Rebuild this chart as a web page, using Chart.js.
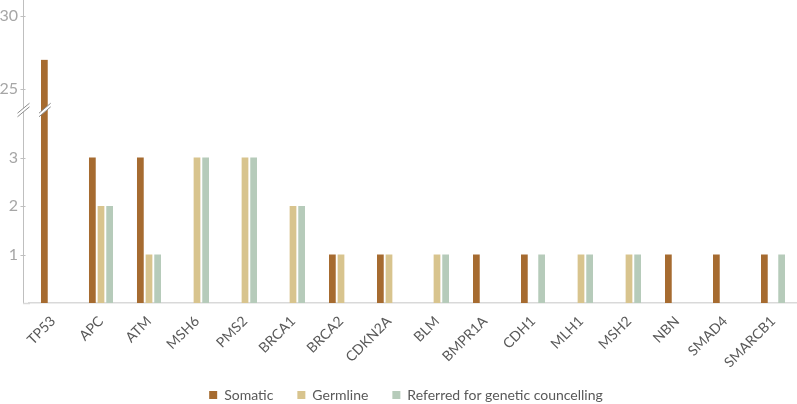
<!DOCTYPE html>
<html><head><meta charset="utf-8">
<script src="https://cdn.jsdelivr.net/npm/chart.js@4/dist/chart.umd.min.js"></script>
<style>html,body{margin:0;padding:0;background:#fff}#wrap{width:797px;height:404px;position:relative}</style>
</head><body><div id="wrap"><canvas id="c"></canvas></div>
<script>
const categories = ['TP53','APC','ATM','MSH6','PMS2','BRCA1','BRCA2','CDKN2A','BLM','BMPR1A','CDH1','MLH1','MSH2','NBN','SMAD4','SMARCB1'];
const somatic  = [27,3,3,0,0,0,1,1,0,1,1,0,0,1,1,1];
const germline = [0,2,1,3,3,2,1,1,1,0,0,1,1,0,0,0];
const referred = [0,2,1,3,3,2,0,0,1,0,1,1,1,0,0,1];
const seriesNames = ['Somatic','Germline','Referred for genetic councelling'];
const seriesColors = ['#A66B30','#D8C48E','#B6CBBA'];
const lowerTicks = [1,2,3];
const upperTicks = [25,30];
const lowerRange = [0, 4];
const upperRange = [23.65, 31.08];

const allSeries = [somatic, germline, referred];
const datasets = [];
allSeries.forEach((vals, i) => {
  datasets.push({
    label: seriesNames[i], data: vals.map(v => Math.min(v, lowerRange[1])),
    backgroundColor: seriesColors[i], yAxisID: 'y', stack: 's' + i,
    barPercentage: 0.78, categoryPercentage: 0.54, isUpper: false
  });
});
allSeries.forEach((vals, i) => {
  datasets.push({
    label: seriesNames[i] + ' (upper)', data: vals.map(v => v > lowerRange[1] ? [upperRange[0], v] : null),
    backgroundColor: seriesColors[i], yAxisID: 'y2', stack: 's' + i,
    barPercentage: 0.78, categoryPercentage: 0.54, isUpper: true
  });
});

const AXIS_X = 23.5;
const axisPlugin = {
  id: 'axes',
  afterLayout(chart) {
    if (chart.legend) {
      chart.legend.left += 5; chart.legend.right += 5;
      chart.legend.top -= 5; chart.legend.bottom -= 5;
    }
  },
  afterDatasetsDraw(chart) {
    const ctx = chart.ctx;
    const ca = chart.chartArea;
    ctx.save();
    ctx.strokeStyle = '#bfbfbf'; ctx.lineWidth = 1;
    ctx.beginPath(); ctx.moveTo(AXIS_X, 0); ctx.lineTo(AXIS_X, ca.bottom); ctx.stroke();
    ['y', 'y2'].forEach(id => {
      const sc = chart.scales[id];
      sc.ticks.forEach(t => {
        const py = Math.round(sc.getPixelForValue(t.value)) + 0.5;
        ctx.beginPath(); ctx.moveTo(AXIS_X - 3, py); ctx.lineTo(AXIS_X + 2, py); ctx.stroke();
      });
    });
    ctx.strokeStyle = '#d9d9d9'; ctx.lineWidth = 1.5;
    ctx.beginPath(); ctx.moveTo(AXIS_X - 0.5, ca.bottom + 0.5); ctx.lineTo(ca.left + 1, ca.bottom + 0.5); ctx.stroke();
    ctx.restore();

    const yb = chart.scales.y.top + 1;
    function mark(xa, xb) {
      const s = 5, g = 1.8;
      ctx.save();
      ctx.fillStyle = '#fff';
      ctx.beginPath();
      ctx.moveTo(xa, yb + s - g); ctx.lineTo(xb, yb - s - g);
      ctx.lineTo(xb, yb - s + g); ctx.lineTo(xa, yb + s + g);
      ctx.closePath(); ctx.fill();
      ctx.strokeStyle = '#8c8c8c'; ctx.lineWidth = 1;
      ctx.beginPath();
      ctx.moveTo(xa, yb + s - g); ctx.lineTo(xb, yb - s - g);
      ctx.moveTo(xa, yb + s + g); ctx.lineTo(xb, yb - s + g);
      ctx.stroke();
      ctx.restore();
    }
    mark(AXIS_X - 6, AXIS_X + 6);
    chart.data.datasets.forEach((ds, di) => {
      if (!ds.isUpper) return;
      const meta = chart.getDatasetMeta(di);
      meta.data.forEach((el, j) => {
        if (ds.data[j] == null) return;
        mark(el.x - el.width / 2 - 2, el.x + el.width / 2 + 3);
      });
    });
  }
};

const tickFont = { family: 'Lato', size: 16 };
function fixY(s) { s.width = 29; s.paddingTop = 0; s.paddingBottom = 0; }
new Chart(document.getElementById('c'), {
  type: 'bar',
  data: { labels: categories, datasets },
  plugins: [axisPlugin],
  options: {
    responsive: true, maintainAspectRatio: false, animation: false,
    layout: { padding: { left: 0, right: -5, top: 0, bottom: -13 } },
    plugins: {
      tooltip: { enabled: false },
      legend: {
        position: 'bottom',
        labels: {
          filter: (item, data) => !data.datasets[item.datasetIndex].isUpper,
          boxWidth: 8, boxHeight: 8, padding: 24, color: '#595959',
          font: { family: 'Lato', size: 14 }
        }
      }
    },
    scales: {
      x: {
        grid: { display: false }, border: { color: '#d9d9d9', width: 1.5 },
        ticks: { color: '#595959', font: { family: 'Lato', size: 14 }, maxRotation: 45, minRotation: 45, autoSkip: false, padding: 2 },
        afterFit: s => { s.height = 66; s.paddingLeft = 0; }
      },
      y: {
        type: 'linear', position: 'left', stack: 'v', stackWeight: 194, min: lowerRange[0], max: lowerRange[1], stacked: false,
        grid: { display: false, drawTicks: false }, border: { display: false },
        ticks: { color: '#a6a6a6', font: tickFont, padding: 11 },
        afterBuildTicks: s => { s.ticks = lowerTicks.map(v => ({ value: v })); },
        afterFit: fixY
      },
      y2: {
        type: 'linear', position: 'left', stack: 'v', stackWeight: 109, min: upperRange[0], max: upperRange[1], stacked: false,
        grid: { display: false, drawTicks: false }, border: { display: false },
        ticks: { color: '#a6a6a6', font: tickFont, padding: 11 },
        afterBuildTicks: s => { s.ticks = upperTicks.map(v => ({ value: v })); },
        afterFit: fixY
      }
    }
  }
});
</script></body></html>
